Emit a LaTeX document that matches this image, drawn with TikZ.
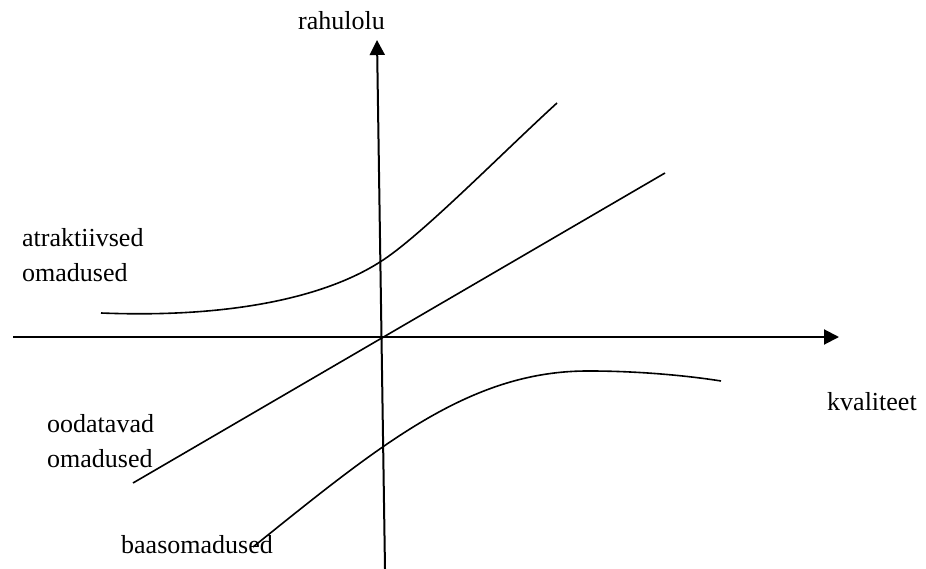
\documentclass[tikz,border=0pt]{standalone}
\usepackage{fontspec}
\setmainfont{Liberation Serif}
\usetikzlibrary{arrows.meta}
\begin{document}
\begin{tikzpicture}[x=1pt,y=-1pt,
  axis/.style={line width=2pt,-{Triangle[length=15pt,width=15pt]}},
  curve/.style={line width=1.6pt},
  lbl/.style={inner sep=0pt,font=\fontsize{26}{35}\selectfont,align=left}]
\useasboundingbox (0,0) rectangle (926,569);
\coordinate (xs) at (13,337);
\coordinate (xe) at (839,337);
\coordinate (ys) at (385,569);
\coordinate (ye) at (377,40);
\draw[axis] (xs) -- (xe);
\draw[axis] (ys) -- (ye);
\node[lbl,anchor=base west] (rah) at (298,30) {rahulolu};
\node[lbl,anchor=base west] (kval) at (827,410) {kvaliteet};
\node[lbl,anchor=base west] (atr) at (22,282) {atraktiivsed\\omadused};
\node[lbl,anchor=base west] (ood) at (47,467) {oodatavad\\omadused};
\node[lbl,anchor=base west] (baas) at (121,553) {baasomadused};
\coordinate (l1) at (133,483);
\coordinate (l2) at (665,173);
\draw[curve] (l1) -- (l2);
\coordinate (a0) at (101,313);
\coordinate (a1) at (380,262);
\coordinate (a2) at (557,103);
\draw[curve] (a0) .. controls (225,318) and (322,299) .. (a1)
  .. controls (420,237) and (500,155) .. (a2);
\coordinate (b0) at (253,547);
\coordinate (b2) at (590,371);
\coordinate (b3) at (721,381);
\draw[curve] (b0) .. controls (380,445) and (470,370) .. (b2)
  .. controls (640,371) and (690,376) .. (b3);
\end{tikzpicture}
\end{document}
